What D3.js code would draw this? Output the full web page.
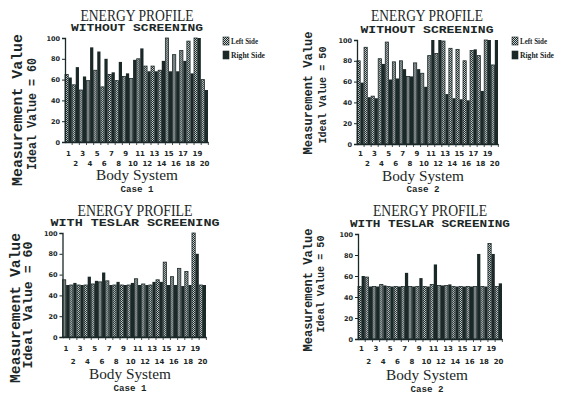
<!DOCTYPE html>
<html>
<head>
<style>
  body { margin: 0; background: #fff; }
  svg text { fill: #1b2727; }
  .serif { font-family: "Liberation Serif", serif; }
  .mono { font-family: "Liberation Mono", monospace; }
  .tick { font-family: "DejaVu Sans", sans-serif; font-weight: bold; font-size: 6.5px; }
</style>
</head>
<body>
<script src="https://d3js.org/d3.v7.min.js"></script>
<svg id="chart" width="563" height="398"></svg>
<script>
  // body systems on the x axis
  var systems = [1, 2, 3, 4, 5, 6, 7, 8, 9, 10, 11, 12, 13, 14, 15, 16, 17, 18, 19, 20];
  var yTicks = [0, 20, 40, 60, 80, 100];
  var sides = ['Left Side', 'Right Side'];

  // values
  var case1WithoutLeft  = [65, 55, 50, 59, 69, 53, 65, 59, 63, 61, 80, 73, 73, 69, 100, 84, 88, 97, 100, 60];
  var case1WithoutRight = [62, 72, 63, 91, 87, 80, 67, 77, 66, 79, 90, 68, 68, 78, 68, 68, 78, 66, 100, 50];
  var case2WithoutLeft  = [80, 93, 46, 82, 98, 79, 80, 65, 78, 68, 85, 87, 99, 92, 91, 80, 90, 85, 100, 76];
  var case2WithoutRight = [59, 45, 44, 77, 62, 63, 72, 65, 72, 55, 100, 100, 48, 44, 43, 42, 91, 51, 100, 100];
  var case1WithLeft  = [55, 50, 50, 50, 51, 53, 54, 50, 50, 50, 56, 51, 50, 55, 72, 58, 66, 63, 100, 50];
  var case1WithRight = [50, 52, 50, 58, 54, 62, 50, 53, 50, 52, 50, 50, 53, 53, 50, 50, 49, 50, 80, 50];
  var case2WithLeft  = [50, 59, 50, 52, 50, 50, 50, 50, 50, 50, 52, 51, 51, 50, 50, 50, 50, 50, 91, 50];
  var case2WithRight = [60, 50, 50, 51, 50, 50, 63, 50, 58, 50, 71, 51, 52, 50, 50, 50, 81, 50, 81, 53];

  var dark = '#1b2828';

  // layout of the 4 panels (scan is not uniform, so each gets its own numbers)
  var panels = [
    { left: case1WithoutLeft, right: case1WithoutRight, sub: 'WITHOUT SCREENING', caseName: 'Case 1', ideal: 'Ideal Value = 60',
      x0: 65, x1: 208, yTop: 38, yBot: 142, cx: 137, titleY: 15, titleW: 113, subY: 27, subW: 132,
      oddY: 154, evenY: 164, bodyX: 137, bodyY: 175, caseY: 189,
      m1: { x: 17, y: 110, w: 152, fs: 14 }, m2: { x: 32, y: 114, w: 112, fs: 12 }, legend: { x: 223, y: 37 } },
    { left: case2WithoutLeft, right: case2WithoutRight, sub: 'WITHOUT SCREENING', caseName: 'Case 2', ideal: 'Ideal Value = 50',
      x0: 357, x1: 498, yTop: 40, yBot: 144, cx: 427, titleY: 15, titleW: 112, subY: 29, subW: 133,
      oddY: 154, evenY: 164, bodyX: 423, bodyY: 176, caseY: 189,
      m1: { x: 308, y: 93, w: 123, fs: 12 }, m2: { x: 322, y: 95, w: 97, fs: 10.5 }, legend: { x: 512, y: 37 } },
    { left: case1WithLeft, right: case1WithRight, sub: 'WITH TESLAR SCREENING', caseName: 'Case 1', ideal: 'Ideal Value = 60',
      x0: 62.5, x1: 206, yTop: 233, yBot: 337, cx: 135, titleY: 210, titleW: 115, subY: 222, subW: 169,
      oddY: 349, evenY: 362, bodyX: 130, bodyY: 374, caseY: 388,
      m1: { x: 15, y: 308, w: 150, fs: 14 }, m2: { x: 28, y: 305, w: 127, fs: 12 }, legend: null },
    { left: case2WithLeft, right: case2WithRight, sub: 'WITH TESLAR SCREENING', caseName: 'Case 2', ideal: 'Ideal Value = 50',
      x0: 358, x1: 502, yTop: 234, yBot: 339, cx: 430, titleY: 210, titleW: 114, subY: 223, subW: 160,
      oddY: 349, evenY: 362, bodyX: 427, bodyY: 375, caseY: 389,
      m1: { x: 308, y: 290, w: 123, fs: 12.5 }, m2: { x: 320, y: 284, w: 97, fs: 10.5 }, legend: null }
  ];

  var svg = d3.select('#chart');

  //checkered fill for the left side bars
  var pat = svg.append('defs').append('pattern')
    .attr('id', 'checker')
    .attr('width', 2).attr('height', 2)
    .attr('patternUnits', 'userSpaceOnUse');
  pat.append('rect').attr('width', 2).attr('height', 2).attr('fill', '#d4d8d8');
  pat.append('rect').attr('width', 1).attr('height', 1).attr('fill', dark);
  pat.append('rect').attr('x', 1).attr('y', 1).attr('width', 1).attr('height', 1).attr('fill', dark);

  panels.forEach(drawPanel);

  function drawPanel(p) {
    var g = svg.append('g');

    var x = d3.scaleBand().domain(systems).range([p.x0, p.x1]).paddingInner(0.05);
    var xIn = d3.scaleBand().domain(sides).range([0, x.bandwidth()]).paddingInner(0.1);
    var y = d3.scaleLinear().domain([0, 100]).range([p.yBot, p.yTop]);

    // titles
    g.append('text').attr('class', 'serif')
      .attr('x', p.cx).attr('y', p.titleY).attr('dy', '0.35em')
      .attr('text-anchor', 'middle').style('font-size', '16px')
      .attr('textLength', p.titleW).attr('lengthAdjust', 'spacingAndGlyphs')
      .text('ENERGY PROFILE');
    g.append('text').attr('class', 'mono')
      .attr('x', p.cx).attr('y', p.subY).attr('dy', '0.35em')
      .attr('text-anchor', 'middle').style('font-size', '10px').style('font-weight', 'bold')
      .attr('textLength', p.subW).attr('lengthAdjust', 'spacingAndGlyphs')
      .text(p.sub);

    // bars
    var groups = g.selectAll('.grp')
      .data(systems)
      .enter().append('g')
      .attr('transform', function(d) { return 'translate(' + x(d) + ',0)'; });

    groups.append('rect')
      .attr('x', xIn('Left Side'))
      .attr('width', xIn.bandwidth())
      .attr('y', function(d, i) { return y(p.left[i]); })
      .attr('height', function(d, i) { return y(0) - y(p.left[i]); })
      .attr('fill', 'url(#checker)')
      .attr('stroke', dark).attr('stroke-width', 0.8);

    groups.append('rect')
      .attr('x', xIn('Right Side'))
      .attr('width', xIn.bandwidth())
      .attr('y', function(d, i) { return y(p.right[i]); })
      .attr('height', function(d, i) { return y(0) - y(p.right[i]); })
      .attr('fill', dark);

    // y axis
    var yAxis = d3.axisLeft(y).tickValues(yTicks).tickSize(3).tickPadding(2);
    var ya = g.append('g').attr('transform', 'translate(' + p.x0 + ',0)').call(yAxis);
    ya.select('.domain').attr('stroke', dark).attr('stroke-width', 1.3);
    ya.selectAll('.tick line').attr('stroke', dark).attr('stroke-width', 1);
    ya.selectAll('.tick text').attr('class', 'tick').style('fill', dark);

    // x axis, odd labels on top row, even ones below
    var xAxis = d3.axisBottom(x).tickSize(0).tickFormat('');
    var xa = g.append('g').attr('transform', 'translate(0,' + p.yBot + ')').call(xAxis);
    xa.select('.domain').attr('stroke', dark).attr('stroke-width', 1.3);
    xa.selectAll('.sep')
      .data(systems)
      .enter().append('line')
      .attr('x1', function(d) { return x(d) + x.step(); })
      .attr('x2', function(d) { return x(d) + x.step(); })
      .attr('y1', 0).attr('y2', 3)
      .attr('stroke', dark).attr('stroke-width', 0.8);

    g.selectAll('.xlab')
      .data(systems)
      .enter().append('text')
      .attr('class', 'tick')
      .attr('x', function(d) { return x(d) + x.bandwidth() / 2; })
      .attr('y', function(d) { return d % 2 ? p.oddY : p.evenY; })
      .attr('dy', '0.35em')
      .attr('text-anchor', 'middle')
      .style('font-size', '7px')
      .text(function(d) { return d; });

    g.append('text').attr('class', 'serif')
      .attr('x', p.bodyX).attr('y', p.bodyY).attr('dy', '0.35em')
      .attr('text-anchor', 'middle').style('font-size', '15px')
      .attr('textLength', 82).attr('lengthAdjust', 'spacingAndGlyphs')
      .text('Body System');
    g.append('text').attr('class', 'mono')
      .attr('x', p.bodyX).attr('y', p.caseY).attr('dy', '0.35em')
      .attr('text-anchor', 'middle').style('font-size', '9px').style('font-weight', 'bold')
      .attr('textLength', 33).attr('lengthAdjust', 'spacingAndGlyphs')
      .text(p.caseName);

    // y titles
    g.append('text').attr('class', 'mono')
      .attr('transform', 'translate(' + p.m1.x + ',' + p.m1.y + ') rotate(-90)')
      .attr('dy', '0.35em').attr('text-anchor', 'middle')
      .style('font-size', p.m1.fs + 'px').style('font-weight', 'bold')
      .attr('textLength', p.m1.w).attr('lengthAdjust', 'spacingAndGlyphs')
      .text('Measurement Value');
    g.append('text').attr('class', 'mono')
      .attr('transform', 'translate(' + p.m2.x + ',' + p.m2.y + ') rotate(-90)')
      .attr('dy', '0.35em').attr('text-anchor', 'middle')
      .style('font-size', p.m2.fs + 'px').style('font-weight', 'bold')
      .attr('textLength', p.m2.w).attr('lengthAdjust', 'spacingAndGlyphs')
      .text(p.ideal);

    // legend only on top charts
    if (p.legend) {
      var lg = g.selectAll('.leg')
        .data(sides)
        .enter().append('g')
        .attr('transform', function(d, i) { return 'translate(' + p.legend.x + ',' + (p.legend.y + i * 14) + ')'; });
      lg.append('rect')
        .attr('width', 6).attr('height', 8)
        .attr('fill', function(d, i) { return i ? dark : 'url(#checker)'; })
        .attr('stroke', dark).attr('stroke-width', 0.6);
      lg.append('text').attr('class', 'serif')
        .attr('x', 8).attr('y', 4).attr('dy', '0.35em')
        .style('font-size', '8px').style('font-weight', 'bold')
        .attr('textLength', function(d, i) { return i ? 34 : 27; })
        .attr('lengthAdjust', 'spacingAndGlyphs')
        .text(function(d) { return d; });
    }
  }
</script>
</body>
</html>
